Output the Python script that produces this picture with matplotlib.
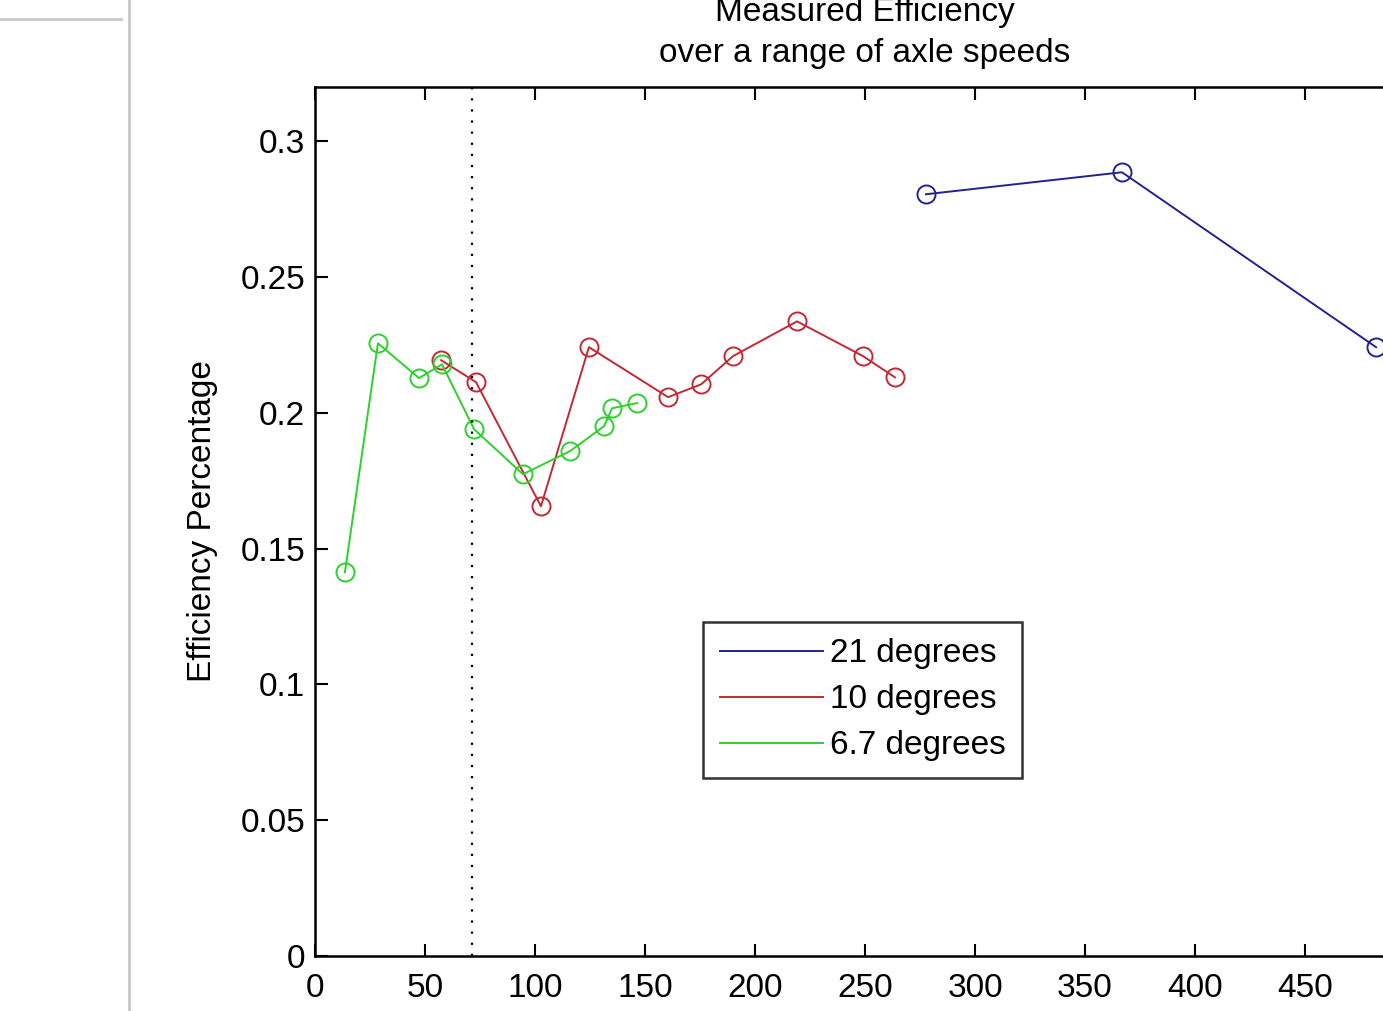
import matplotlib.pyplot as plt
from matplotlib.lines import Line2D


# =========================
# Data
# =========================

speed_21 = [277.7, 366.8, 482.3]
eff_21 = [0.2805, 0.2886, 0.2242]

speed_10 = [57.3, 73.2, 102.7, 124.5, 160.5, 175.5, 190.0, 219.1, 249.1, 263.6]
eff_10 = [0.2194, 0.2113, 0.1656, 0.2242, 0.2058, 0.2105, 0.2209, 0.2337, 0.2209, 0.2131]

speed_67 = [13.6, 28.6, 47.3, 57.7, 72.3, 94.5, 115.9, 131.4, 135.0, 146.4]
eff_67 = [0.1413, 0.2256, 0.2128, 0.2179, 0.1940, 0.1774, 0.1859, 0.1951, 0.2017, 0.2036]

marker_line_x = 71.5

series_labels = ["21 degrees", "10 degrees", "6.7 degrees"]
series_colors = ["#23238f", "#c02a36", "#2ed02e"]

x_ticks = [0, 50, 100, 150, 200, 250, 300, 350, 400, 450]
y_ticks = [0, 0.05, 0.1, 0.15, 0.2, 0.25, 0.3]
y_tick_labels = ["0", "0.05", "0.1", "0.15", "0.2", "0.25", "0.3"]


# =========================
# Figure
# =========================

plt.rcParams["font.family"] = ["Liberation Sans", "DejaVu Sans"]
font_size = 24

fig = plt.figure(figsize=(13.83, 10.11), dpi=100)

# window chrome on the left of the screenshot
fig.add_artist(Line2D([128.5 / 1383, 128.5 / 1383], [0, 1], color="#c8c8c8", lw=2))
fig.add_artist(Line2D([0, 121 / 1383], [1 - 18.5 / 1011, 1 - 18.5 / 1011], color="#c8c8c8", lw=2))

ax = fig.add_axes([315 / 1383, 55 / 1011, 1100 / 1383, 869 / 1011])

for xs, ys, c in zip([speed_21, speed_10, speed_67], [eff_21, eff_10, eff_67], series_colors):
    ax.plot(xs, ys, color=c, lw=1.4, marker="o", markersize=13,
            markerfacecolor="none", markeredgecolor=c, markeredgewidth=1.4)

ax.axvline(marker_line_x, color="black", lw=1.6, linestyle=(0, (1, 4)))

ax.set_xlim(0, 500)
ax.set_ylim(0, 0.32)
ax.set_xticks(x_ticks)
ax.set_yticks(y_ticks)
ax.set_yticklabels(y_tick_labels)

ax.tick_params(direction="in", top=True, right=True, length=9, width=1.5,
               labelsize=font_size, colors="black", pad=7)
ax.tick_params(axis="x", pad=12)
for spine in ax.spines.values():
    spine.set_linewidth(1.8)

ax.set_ylabel("Efficiency Percentage", fontsize=font_size)
ax.yaxis.set_label_coords(-0.088, 0.5)
ax.set_title("Measured Efficiency\nover a range of axle speeds", fontsize=font_size,
             pad=18, linespacing=1.4)

handles = [Line2D([0], [0], color=c, lw=1.4) for c in series_colors]
leg = ax.legend(handles, series_labels, loc="lower left",
                bbox_to_anchor=(0.3527, 0.2048), borderaxespad=0,
                fontsize=font_size, frameon=True, fancybox=False,
                handlelength=3.1, handletextpad=0.2, labelspacing=0.45,
                borderpad=0.5)
leg.get_frame().set_edgecolor("black")
leg.get_frame().set_linewidth(1.8)

fig.savefig("out.png", dpi=100)
